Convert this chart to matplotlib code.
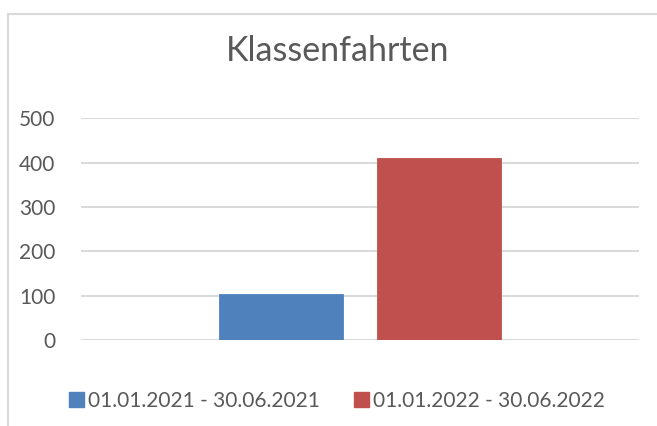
import matplotlib.pyplot as plt
from matplotlib.lines import Line2D
from matplotlib.patches import Patch

title = "Klassenfahrten"
series_labels = ["01.01.2021 - 30.06.2021", "01.01.2022 - 30.06.2022"]
series_values = [104, 410]
series_colors = ["#4f81bd", "#c0504d"]
y_ticks = [0, 100, 200, 300, 400, 500]

text_color = "#595959"
grid_color = "#d9d9d9"

plt.rcParams["font.family"] = ["Lato", "DejaVu Sans"]

W, H = 657, 426
fig = plt.figure(figsize=(W / 100, H / 100), dpi=100)
fig.patch.set_facecolor("white")

# plot area in pixels: x 81..639, y 118..340
ax = fig.add_axes([81 / W, 1 - 340 / H, (639 - 81) / W, (340 - 118.3) / H])

offsets = [-0.142, 0.142]
for off, v, c, lab in zip(offsets, series_values, series_colors, series_labels):
    ax.bar(off, v, width=0.222, color=c, edgecolor=c, linewidth=0.6, label=lab, zorder=3)

ax.set_xlim(-0.5, 0.5)
ax.set_ylim(0, 500)
ax.set_yticks(y_ticks)
ax.set_yticklabels([str(t) for t in y_ticks])
ax.set_xticks([])
ax.grid(axis="y", color=grid_color, linewidth=1.4, zorder=0)
for s in ax.spines.values():
    s.set_visible(False)
ax.tick_params(axis="y", length=0, pad=18.5, labelsize=15, labelcolor=text_color)

# chart title
fig.text(338 / W, 1 - 51 / H, title, ha="center", va="center",
         fontsize=24.5, color=text_color)

# legend
handles = [Patch(facecolor=c, edgecolor=c) for c in series_colors]
fig.legend(handles, series_labels, loc="center", bbox_to_anchor=(337 / W, 1 - 401 / H),
           ncol=2, frameon=False, fontsize=15, labelcolor=text_color,
           handlelength=0.75, handleheight=0.75, handletextpad=0.2, columnspacing=1.6)

# chart area border (only top and left visible)
fig.add_artist(Line2D([8 / W, 1.0], [1 - 14 / H, 1 - 14 / H], color=grid_color, linewidth=1.5))
fig.add_artist(Line2D([8 / W, 8 / W], [0, 1 - 14 / H], color=grid_color, linewidth=1.5))

fig.savefig("out.png", dpi=100, facecolor="white")
